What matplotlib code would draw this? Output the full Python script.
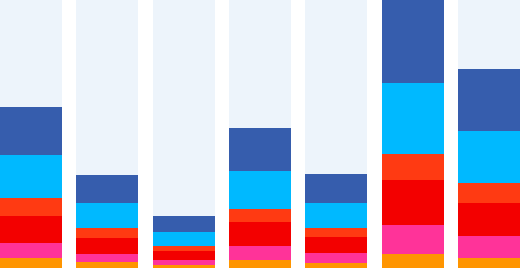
import matplotlib
matplotlib.use("Agg")
import matplotlib.pyplot as plt
import numpy as np

# stacked segments, bottom to top
orange = [10, 6, 3, 8, 5, 14, 10]
pink = [15, 8, 5, 14, 10, 29, 22]
red = [27, 16, 9, 24, 16, 45, 33]
orangered = [18, 10, 5, 13, 9, 26, 20]
cyan = [43, 25, 14, 38, 25, 71, 52]
blue = [48, 28, 16, 43, 29, 83, 62]

series = [orange, pink, red, orangered, cyan, blue]
colors = ["#FF9500", "#FF3399", "#F30000", "#FF3A12", "#00B9FF", "#365DAD"]

x = np.arange(len(blue))
width = 0.812
top = 268

fig = plt.figure(figsize=(5.2, 2.68), dpi=100)
ax = fig.add_axes([0, 0, 1, 1])

ax.bar(x, [top] * len(x), width=width, color="#EDF4FB", linewidth=0)
bottom = np.zeros(len(x))
for vals, c in zip(series, colors):
    ax.bar(x, vals, width=width, bottom=bottom, color=c, linewidth=0)
    bottom += np.array(vals)

ax.set_xlim(-width / 2, len(x) - 1 + width / 2)
ax.set_ylim(0, top)
ax.axis("off")

plt.savefig("out.png", dpi=100)
